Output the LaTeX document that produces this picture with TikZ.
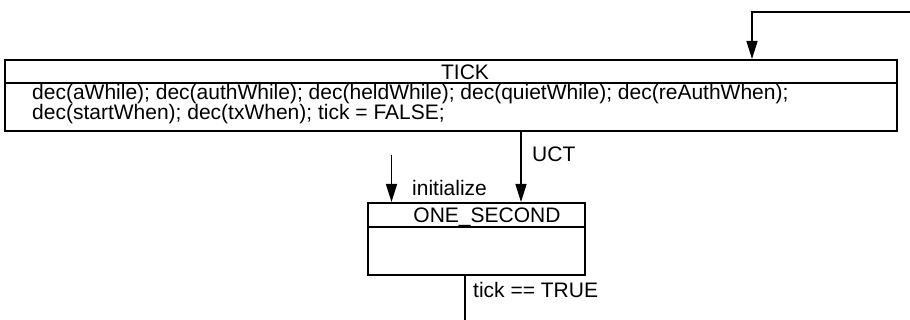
\documentclass[tikz,border=0pt]{standalone}
\usepackage{fontspec}
\setmainfont{Liberation Sans}
\usetikzlibrary{arrows.meta,calc}
\tikzset{
  statebox/.style={draw, line width=2pt, rectangle, inner sep=0pt},
  divider/.style={line width=2pt},
  txt/.style={inner sep=0pt, font=\fontsize{21}{18.3}\selectfont},
  conn/.style={line width=1.5pt},
  arrowconn/.style={conn, -{Triangle[length=18pt,width=11pt]}},
}
\begin{document}
\begin{tikzpicture}[x=1pt, y=-1pt]
  \useasboundingbox (0,0) rectangle (910,320);

  % TICK state
  \node[statebox, minimum width=892pt, minimum height=71pt] (tickbox) at (451,95.5) {};
  \draw[divider] ($(tickbox.north west)+(0,24)$) -- ($(tickbox.north east)+(0,24)$);
  \node[txt, anchor=base] (ticktitle) at (465,80) {TICK};
  % the base anchor of a two-line node sits on its last line
  \node[txt, anchor=base west, align=left] (tickact) at (32,120)
    {dec(aWhile); dec(authWhile); dec(heldWhile); dec(quietWhile); dec(reAuthWhen);\\
     dec(startWhen); dec(txWhen); tick = FALSE;};

  % ONE_SECOND state
  \node[statebox, minimum width=217pt, minimum height=72pt] (one) at (476.5,239) {};
  \draw[divider] ($(one.north west)+(0,25)$) -- ($(one.north east)+(0,25)$);
  \node[txt, anchor=base] (onetitle) at (487,223) {ONE\_SECOND};

  % transitions
  \coordinate (loopin) at (910,12);
  \draw[arrowconn] (loopin) -| ([xshift=301pt]tickbox.north);

  \coordinate (ucttop) at ([xshift=70pt]tickbox.south);
  \draw[arrowconn] (ucttop) -- (ucttop |- one.north);
  \node[txt, anchor=base west] (uctlbl) at (532,162) {UCT};

  \coordinate (initsrc) at (391.5,155);
  \draw[arrowconn] (initsrc) -- (initsrc |- one.north);
  \node[txt, anchor=base west] (initlbl) at (412,196) {initialize};

  \coordinate (tickout) at (465,320);
  \draw[conn] (tickout |- one.south) -- (tickout);
  \node[txt, anchor=base west] (ticklbl) at (473,298) {tick == TRUE};
\end{tikzpicture}
\end{document}
